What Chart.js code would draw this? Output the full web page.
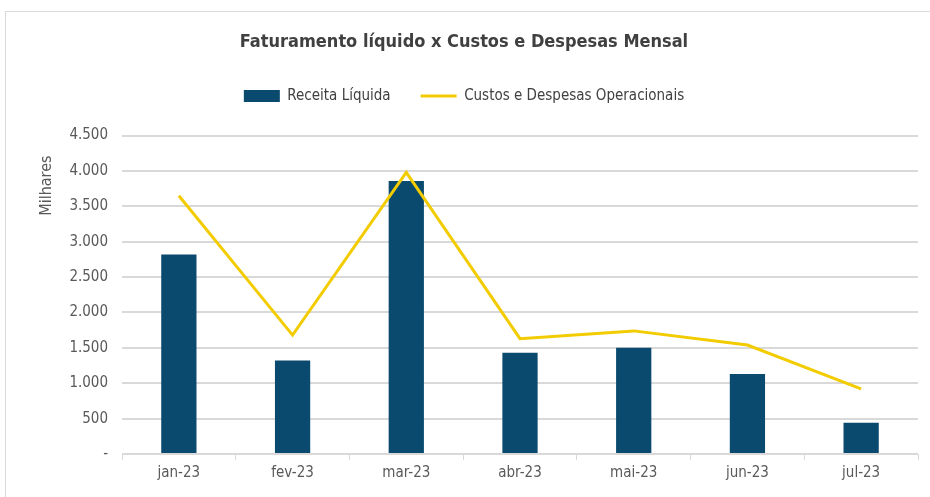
<!DOCTYPE html>
<html lang="pt-BR">
<head>
    <meta charset="UTF-8">
    <title>Faturamento líquido x Custos e Despesas Mensal</title>
    <script src="https://cdn.jsdelivr.net/npm/chart.js"></script>
    <style>
        html, body { margin: 0; padding: 0; background: #fff; }
        .frame { position: absolute; left: 5px; top: 11px; width: 925px; height: 486px;
                 border-left: 1px solid #d9d9d9; border-top: 1px solid #d9d9d9; }
        #chart { position: absolute; left: 0; top: 0; }
    </style>
</head>
<body>
    <div class="frame"></div>
    <canvas id="chart" width="930" height="497"></canvas>
    <script>
        // dados (valores em milhares)
        const meses = ['jan-23', 'fev-23', 'mar-23', 'abr-23', 'mai-23', 'jun-23', 'jul-23'];
        const receitaLiquida = [2820, 1320, 3860, 1430, 1500, 1130, 440];
        const custosDespesas = [3650, 1680, 3980, 1630, 1740, 1540, 920];
        const yTicks = [0, 500, 1000, 1500, 2000, 2500, 3000, 3500, 4000, 4500];

        const fonte = "'Liberation Sans Narrow', 'DejaVu Sans Condensed', sans-serif";
        const cinza = '#595959';

        function formatar(v) {
            if (v === 0) return '-';
            return String(v).replace(/\B(?=(\d{3})+(?!\d))/g, '.');
        }

        // rótulo "Milhares" no alto do eixo, como no Excel
        const rotuloEixo = {
            id: 'rotuloEixo',
            beforeInit(chart) {
                // espaço extra abaixo da legenda
                const fit = chart.legend.fit;
                chart.legend.fit = function () {
                    fit.call(this);
                    this.height += 22;
                };
            },
            afterDraw(chart) {
                const ctx = chart.ctx;
                const area = chart.chartArea;
                ctx.save();
                ctx.translate(47, area.top + 50);
                ctx.rotate(-Math.PI / 2);
                ctx.font = "16px " + fonte;
                ctx.fillStyle = cinza;
                ctx.textAlign = 'center';
                ctx.textBaseline = 'middle';
                ctx.fillText('Milhares', 0, 0);
                ctx.restore();
            }
        };

        const ctx = document.getElementById('chart').getContext('2d');
        new Chart(ctx, {
            type: 'bar',
            data: {
                labels: meses,
                datasets: [{
                    type: 'line',
                    label: 'Custos e Despesas Operacionais',
                    data: custosDespesas,
                    borderColor: '#f2cc00',
                    backgroundColor: '#f2cc00',
                    borderWidth: 3,
                    pointRadius: 0,
                    tension: 0,
                    pointStyle: 'line',
                    order: 0
                }, {
                    label: 'Receita Líquida',
                    data: receitaLiquida,
                    backgroundColor: '#0a4a6e',
                    borderWidth: 0,
                    categoryPercentage: 1,
                    barPercentage: 0.31,
                    pointStyle: 'rect',
                    order: 1
                }]
            },
            options: {
                responsive: false,
                animation: false,
                layout: { padding: { left: 10, right: 12, top: 0, bottom: 11 } },
                plugins: {
                    title: {
                        display: true,
                        text: 'Faturamento líquido x Custos e Despesas Mensal',
                        color: '#404040',
                        font: { family: fonte, size: 18, weight: 'bold' },
                        padding: { top: 32, bottom: 5 }
                    },
                    legend: {
                        reverse: true,
                        labels: {
                            color: '#404040',
                            font: { family: fonte, size: 15 },
                            usePointStyle: true,
                            pointStyleWidth: 36,
                            boxHeight: 12,
                            padding: 30
                        }
                    },
                    tooltip: { enabled: false }
                },
                scales: {
                    x: {
                        grid: { display: true, drawOnChartArea: false, drawTicks: true, tickLength: 6, color: '#d9d9d9' },
                        border: { color: '#d9d9d9' },
                        ticks: { color: cinza, font: { family: fonte, size: 15 }, padding: 4 }
                    },
                    y: {
                        min: 0,
                        max: 4500,
                        afterBuildTicks(axis) { axis.ticks = yTicks.map(v => ({ value: v })); },
                        afterFit(axis) { axis.width = 112; },
                        grid: { color: '#d9d9d9', lineWidth: 2, drawTicks: false },
                        border: { display: false },
                        ticks: { color: cinza, font: { family: fonte, size: 15 }, padding: 14, callback: v => formatar(v) }
                    }
                }
            },
            plugins: [rotuloEixo]
        });
    </script>
</body>
</html>
